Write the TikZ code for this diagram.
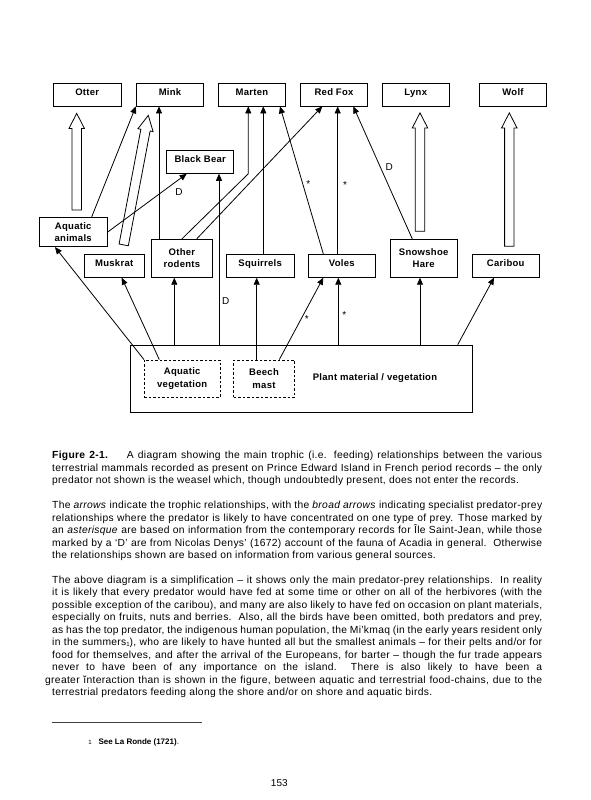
\documentclass[tikz,border=0pt]{standalone}
\usepackage{fontspec}
\setmainfont{Liberation Sans}
\newfontfamily\captfont[LetterSpace=3]{Liberation Sans}
\newfontfamily\boxfont[LetterSpace=3]{Liberation Sans}
\usepackage{xcolor}
\usepackage{tikz}
\usetikzlibrary{arrows.meta}
\usetikzlibrary{calc}

\tikzset{
  animal/.style={draw, rectangle, line width=0.8pt, minimum width=67.5pt, minimum height=23pt, inner sep=1pt, align=center, text height=7pt, text depth=6pt, font=\boxfont\bfseries\fontsize{9.5}{12.5}\selectfont},
  twoline/.style={text height=, text depth=},
  foodbox/.style={draw, rectangle, line width=0.8pt, minimum width=342.7pt, minimum height=67.3pt},
  plantpart/.style={draw, rectangle, line width=0.7pt, dash pattern=on 2.5pt off 2pt, minimum height=37.7pt, inner sep=1pt, align=center, font=\boxfont\bfseries\fontsize{9.5}{12.5}\selectfont},
  feeds/.style={-{Triangle[length=7pt,width=6pt]}, line width=0.8pt},
  broad/.style={line width=0.8pt, fill=white},
  srclabel/.style={font=\fontsize{10}{12}\selectfont, inner sep=0pt},
  capt/.style={align=left, inner sep=0pt, font=\captfont\fontsize{10.3}{12.45}\selectfont}
}

% broad arrow from #1 to #2 (tip at #2)
\newcommand{\broadarrow}[2]{%
  \draw[broad] let \p1=(#1), \p2=(#2),
      \n1={atan2(\y2-\y1,\x2-\x1)}, \n2={veclen(\x2-\x1,\y2-\y1)-15pt} in
    ($(\p1)+(\n1+90:4.7pt)$) -- ++(\n1:\n2) -- ++(\n1+90:3pt) -- (\p2)
    -- ($(\p1)+(\n1:\n2)+(\n1-90:7.7pt)$) -- ++(\n1+90:3pt)
    -- ($(\p1)+(\n1-90:4.7pt)$) -- cycle;}

\newcommand{\jline}[1]{\makebox[490pt][s]{#1}}

\begin{document}
\begin{tikzpicture}[x=1pt, y=-1pt]
  \useasboundingbox (0,0) rectangle (590,800);

  % predators
  \node[animal] (otter) at (87.2,94.5) {Otter};
  \node[animal] (mink) at (170,94.5) {Mink};
  \node[animal] (marten) at (252,94.5) {Marten};
  \node[animal] (redfox) at (334,94.5) {Red Fox};
  \node[animal] (lynx) at (415.7,94.5) {Lynx};
  \node[animal] (wolf) at (513,94.5) {Wolf};
  \node[animal, minimum width=67pt, minimum height=23.3pt] (bear) at (200.2,161.7) {Black Bear};

  % prey
  \node[animal, twoline, minimum width=68.3pt, minimum height=29.4pt] (aqanim) at (73.2,232) {Aquatic\\animals};
  \node[animal, minimum width=60.3pt] (muskrat) at (114.2,265.8) {Muskrat};
  \node[animal, twoline, minimum width=60.3pt, minimum height=38pt] (rodents) at (181.9,258.3) {Other\\rodents};
  \node[animal] (squirrels) at (260.2,265.8) {Squirrels};
  \node[animal] (voles) at (341.8,265.8) {Voles};
  \node[animal, twoline, minimum height=38pt] (hare) at (423.7,258.3) {Snowshoe\\Hare};
  \node[animal] (caribou) at (505.7,265.8) {Caribou};

  % plants
  \node[foodbox] (plant) at (301.3,378.7) {};
  \node[plantpart, minimum width=75.7pt] (aqveg) at (182.2,378.8) {Aquatic\\vegetation};
  \node[plantpart, minimum width=60.6pt] (beech) at (264,378.8) {Beech\\mast};
  \node[font=\boxfont\bfseries\fontsize{9.5}{12}\selectfont] (plantlbl) at (375,378) {Plant material / vegetation};

  % broad arrows (specialists)
  \broadarrow{[xshift=3.5pt,yshift=7pt]aqanim.north}{[xshift=-10.5pt,yshift=-7pt]otter.south}
  \broadarrow{[xshift=9.5pt,yshift=9pt]muskrat.north}{[xshift=-21.7pt,yshift=-9pt]mink.south}
  \broadarrow{[xshift=-3.7pt,yshift=7.6pt]hare.north}{[xshift=4.3pt,yshift=-6.5pt]lynx.south}
  \broadarrow{[xshift=3.6pt,yshift=7.6pt]caribou.north}{[xshift=-3.7pt,yshift=-6.5pt]wolf.south}

  % feeding links
  \draw[feeds] ([xshift=18.5pt]aqanim.north) -- (mink.south west);
  \draw[feeds] ([xshift=-11pt]mink.south |- rodents.north) -- ([xshift=-11pt]mink.south);
  \draw[feeds] (aqanim.east) -- ([xshift=-13.5pt]bear.south);
  \draw[feeds] ([xshift=18.8pt]bear.south |- plant.north) -- ([xshift=18.8pt]bear.south);
  \draw[feeds] (rodents.north) -- ([xshift=-3.7pt]marten.south |- bear.south) -- ([xshift=-3.7pt]marten.south);
  \draw[feeds] ([xshift=14.8pt]rodents.north) -- ([xshift=-11.7pt]redfox.south);
  \draw[feeds] ([xshift=11.3pt]marten.south |- squirrels.north) -- ([xshift=11.3pt]marten.south);
  \draw[feeds] ([xshift=-18.5pt]voles.north) -- ([xshift=28pt]marten.south);
  \draw[feeds] ([xshift=3.7pt]redfox.south |- voles.north) -- ([xshift=3.7pt]redfox.south);
  \draw[feeds] ([xshift=-11.4pt]hare.north) -- ([xshift=19.3pt]redfox.south);
  \draw[feeds] (aqveg.north west) -- ([xshift=-18.2pt]aqanim.south);
  \draw[feeds] ([xshift=-22.9pt]aqveg.north) -- ([xshift=7.5pt]muskrat.south);
  \draw[feeds] ([xshift=-7.6pt]rodents.south |- plant.north) -- ([xshift=-7.6pt]rodents.south);
  \draw[feeds] ([xshift=-3.5pt]squirrels.south |- beech.north) -- ([xshift=-3.5pt]squirrels.south);
  \draw[feeds] ([xshift=15.3pt]beech.north) -- ([xshift=-18.5pt]voles.south);
  \draw[feeds] ([xshift=-3.5pt]voles.south |- plant.north) -- ([xshift=-3.5pt]voles.south);
  \draw[feeds] ([xshift=-3.7pt]hare.south |- plant.north) -- ([xshift=-3.7pt]hare.south);
  \draw[feeds] ([xshift=156.4pt]plant.north) -- ([xshift=-11.7pt]caribou.south);

  % sources
  \node[srclabel] (d1) at (179,191.7) {D};
  \node[srclabel] (d2) at (225.7,301) {D};
  \node[srclabel] (d3) at (389.3,166.7) {D};
  \node[srclabel] (s1) at (308.3,184.3) {*};
  \node[srclabel] (s2) at (345,185.3) {*};
  \node[srclabel] (s3) at (306.7,319.3) {*};
  \node[srclabel] (s4) at (344.3,315.3) {*};

  % caption
  \node[capt, anchor=north west] (caption) at (52,451.3) {%
    \jline{\textbf{Figure 2-1.}\hspace{1.1em} A diagram showing the main trophic (i.e. feeding) relationships between the various}\\
    \jline{terrestrial mammals recorded as present on Prince Edward Island in French period records – the only}\\
    predator not shown is the weasel which, though undoubtedly present, does not enter the records.\\[12.45pt]
    \jline{The \textit{arrows} indicate the trophic relationships, with the \textit{broad arrows} indicating specialist predator-prey}\\
    \jline{relationships where the predator is likely to have concentrated on one type of prey. Those marked by}\\
    \jline{an \textit{asterisque} are based on information from the contemporary records for Île Saint-Jean, while those}\\
    \jline{marked by a ‘D’ are from Nicolas Denys’ (1672) account of the fauna of Acadia in general.\ \ Otherwise}\\
    the relationships shown are based on information from various general sources.\\[12.45pt]
    \jline{The above diagram is a simplification – it shows only the main predator-prey relationships.\ \ In reality}\\
    \jline{it is likely that every predator would have fed at some time or other on all of the herbivores (with the}\\
    \jline{possible exception of the caribou), and many are also likely to have fed on occasion on plant materials,}\\
    \jline{especially on fruits, nuts and berries.\ \ Also, all the birds have been omitted, both predators and prey,}\\
    \jline{as has the top predator, the indigenous human population, the Mi’kmaq (in the early years resident only}\\
    \jline{in the summers\raisebox{-0.5pt}{\fontsize{6}{6}\selectfont 1}), who are likely to have hunted all but the smallest animals – for their pelts and/or for}\\
    \jline{food for themselves, and after the arrival of the Europeans, for barter – though the fur trade appears}\\
    \jline{never to have been of any importance on the island.\ \ There is also likely to have been a}\\
    \hspace*{-7pt}\makebox[497pt][s]{greater ĭnteraction than is shown in the figure, between aquatic and terrestrial food-chains, due to the}\\
    terrestrial predators feeding along the shore and/or on shore and aquatic birds.};

  % footnote
  \coordinate (rulestart) at (52.3,722.7);
  \coordinate (ruleend) at (202.3,722.7);
  \draw[line width=1.2pt, black!75] (rulestart) -- (ruleend);
  \node[font=\fontsize{6}{6}\selectfont, inner sep=0pt] (fnmark) at (90,742.5) {1};
  \node[anchor=west, inner sep=0pt, font=\bfseries\fontsize{8}{10}\selectfont] (fntext) at (98.3,742.3) {See La Ronde (1721)\textmd{.}};

  % page number
  \node[font=\fontsize{10}{12}\selectfont] (pagenum) at (279.3,783.3) {153};
\end{tikzpicture}
\end{document}
